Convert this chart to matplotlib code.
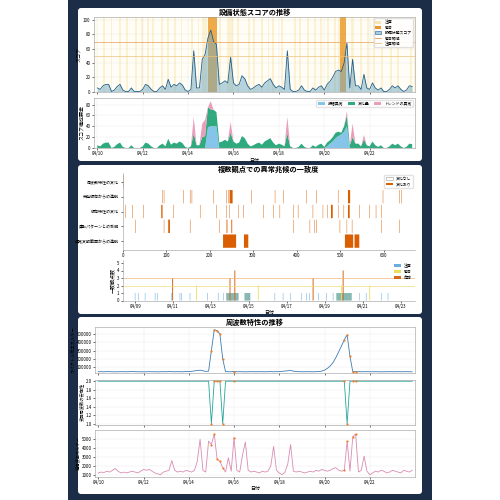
import matplotlib
matplotlib.use('Agg')
import matplotlib.pyplot as plt
import matplotlib.dates as mdates
from matplotlib.patches import FancyBboxPatch, Patch, Rectangle
from matplotlib.lines import Line2D
import numpy as np
import pandas as pd

plt.rcParams['font.family'] = ['Noto Sans CJK JP', 'DejaVu Sans']
plt.rcParams['axes.unicode_minus'] = False

# ---------------- data ----------------
# 3-hour samples from 04/10 00:00
times = pd.date_range('2024-04-10 00:00', periods=112, freq='3h')

score = [5, 3, 8, 10, 10, 0, 2, 7,
         10, 2, 0, 0, 5, 0, 0, 0,
         3, 10, 8, 3, 0, 0, 5, 8,
         3, 17, 6, 10, 8, 12, 9, 2,
         0, 3, 57, 5, 5, 45, 52, 75,
         86, 70, 66, 10, 12, 15, 12, 48,
         12, 8, 10, 22, 18, 8, 3, 5,
         8, 10, 6, 12, 15, 18, 10, 5,
         8, 6, 3, 57, 3, 0, 0, 2,
         8, 2, 0, 0, 5, 2, 6, 8,
         2, 10, 14, 20, 28, 30, 28, 40,
         68, 5, 45, 8, 8, 3, 24, 5,
         3, 12, 5, 2, 5, 0, 0, 3,
         8, 5, 8, 3, 0, 2, 8, 7]

amp_part = [0] * 39 + [38, 40, 40, 40] + [0] * 38 + [3, 8, 12, 18, 22, 25, 30, 40] + [0] * 23
trend_part = [0] * 34 + [30, 0, 0, 25, 30, 0, 15] + [0] * 6 + [20] + [0] * 19 + [30] + [0] * 20 + [8, 0, 25, 0, 0, 0, 8] + [0] * 17

# caution / warning periods (hours from 04/10 00:00, duration hours)
caution_spans = [(6, 2), (14, 2), (23, 2), (30, 2), (40, 2), (46, 2), (53, 2),
                 (58, 2), (67, 2), (74, 2), (81, 2), (88, 2), (99, 2), (106, 2),
                 (111, 5), (129, 2), (137, 7), (148, 2), (159, 2), (165, 2), (173, 2),
                 (180, 2), (185, 2), (194, 2), (208, 2), (213, 2), (222, 2),
                 (229, 2), (236, 2), (243, 2), (250, 2), (255, 2), (268, 4),
                 (278, 2), (285, 2), (292, 2), (300, 2), (310, 2), (317, 2),
                 (331, 2), (335, 2)]
warning_spans = [(117.5, 9.5), (256.5, 6)]
warn_threshold = 70
caution_threshold = 50

# anomaly-sign agreement (index, run length)
categories = ['通常変動範囲からの逸脱', '運転パターンとの乖離', '傾向特性の変化',
              '突発傾向からの逸脱', '周波数特性の変化']
events_range = [(231, 30), (279, 10), (511, 19), (533, 11)]
events_pattern = [(29, 1), (95, 1), (105, 4), (155, 1), (223, 1), (239, 2), (250, 2), (392, 1),
                  (430, 1), (441, 1), (445, 1), (499, 1), (515, 1), (527, 1), (594, 1), (636, 1)]
events_trend = [(6, 1), (23, 1), (48, 1), (89, 3), (117, 1), (178, 1), (216, 1), (239, 1),
                (246, 1), (266, 1), (277, 1), (323, 1), (346, 1), (361, 1), (392, 1), (403, 1),
                (437, 1), (460, 1), (471, 1), (479, 4), (495, 1), (508, 1), (518, 4), (544, 1),
                (567, 1), (582, 1), (594, 1)]
events_burst = [(92, 1), (95, 1), (140, 1), (155, 1), (159, 1), (208, 1), (239, 1), (243, 1),
                (246, 7), (296, 1), (350, 1), (369, 1), (422, 1), (445, 1), (495, 1), (518, 5),
                (598, 1), (636, 1), (640, 1)]
events_freq = [(0, 2)]
n_index = 672

# agreement counts over time
agree_start = pd.Timestamp('2024-04-08 08:00')
agree_end = pd.Timestamp('2024-04-23 18:00')
level1_idx = [29, 37, 52, 75, 80, 113, 132, 136, 155, 195, 220, 232, 350, 369, 386, 411,
              423, 430, 450, 469, 484, 545, 560, 595, 610]
level1_runs = [(239, 266), (281, 293), (492, 526)]
level2_idx = [170, 312, 503, 568]
level3_idx = [115, 247, 258, 438, 507]
level3_cnt = [3, 3, 4, 3, 4]

# frequency characteristics
power = [45000, 46000, 45000, 47000, 46000, 45000, 44000, 45000,
         46000, 45000, 45000, 46000, 47000, 46000, 45000, 45000,
         44000, 45000, 46000, 45000, 45000, 44000, 45000, 46000,
         45000, 47000, 46000, 45000, 46000, 45000, 45000, 47000,
         48000, 50000, 55000, 60000, 64000, 56000, 50000, 52000,
         300000, 550000, 540000, 500000, 200000, 46000, 45000, 45000,
         48000, 45000, 46000, 45000, 44000, 45000, 46000, 45000,
         45000, 46000, 45000, 45000, 46000, 47000, 45000, 46000,
         47000, 50000, 54000, 57000, 60000, 52000, 47000, 46000,
         45000, 45000, 46000, 45000, 45000, 46000, 48000, 52000,
         65000, 85000, 115000, 155000, 215000, 285000, 355000, 430000,
         490000, 230000, 45000, 47000, 46000, 45000, 45000, 46000,
         45000, 45000, 46000, 45000, 44000, 45000, 45000, 46000,
         45000, 45000, 46000, 45000, 45000, 46000, 45000, 45000]
ratio = [2.0] * 40 + [1.0, 2.0, 2.0, 2.0, 1.0] + [2.0] * 43 + [1.0] + [2.0] * 23
energy = [1200, 1300, 1250, 1400, 1300, 1500, 1700, 1400,
          1200, 1300, 1200, 1300, 1400, 1300, 1200, 1400,
          1600, 1500, 1600, 1400, 1200, 1100, 1000, 1300,
          1400, 1500, 2600, 1500, 1300, 1400, 1300, 1500,
          1400, 1300, 1500, 2500, 5000, 1500, 1300, 4800,
          4400, 5600, 2800, 2500, 1800, 1300, 2900, 1400,
          5200, 1500, 1300, 3200, 4700, 1500, 1300, 1400,
          1300, 1200, 1400, 1300, 1400, 2000, 4200, 1500,
          1200, 1000, 1300, 2200, 4400, 1400, 1300, 1400,
          1300, 1200, 1300, 1400, 1300, 1500, 1400, 1600,
          1500, 1400, 1500, 1700, 1800, 1500, 1400, 1500,
          4800, 1400, 5300, 5600, 1300, 1500, 3100, 1400,
          1000, 1200, 1400, 1300, 1500, 1400, 1200, 1300,
          1500, 1400, 1300, 1200, 1500, 1400, 1300, 1500]
power_anom = [40, 41, 42, 43, 44, 48, 87, 88, 89, 90, 91]
ratio_anom = [40, 41, 42, 43, 44, 48, 87, 88, 90, 91]
energy_anom = [40, 41, 42, 43, 44, 48, 87, 88, 90, 91]

# ---------------- figure ----------------
fig = plt.figure(figsize=(5, 5), dpi=100)
fig.patch.set_facecolor('white')
fig.patches.append(Rectangle((0.136, 0), 0.728, 1, transform=fig.transFigure,
                             facecolor='#1b2d47', edgecolor='none', zorder=-2))
for y0, y1 in [(8, 161), (165, 314), (317, 494)]:
    fig.patches.append(FancyBboxPatch((0.156, 1 - y1 / 500), 0.688, (y1 - y0) / 500,
                                      boxstyle='round,pad=0,rounding_size=0.006',
                                      transform=fig.transFigure, facecolor='white',
                                      edgecolor='none', zorder=-1))

TICK = 3.2
LAB = 3.6


def style(ax):
    for s in ax.spines.values():
        s.set_linewidth(0.4)
        s.set_color('#999999')
    ax.tick_params(labelsize=TICK, length=1.5, width=0.4, pad=1)
    ax.grid(True, alpha=0.25, linewidth=0.3)


t0 = times[0]
xmin = pd.Timestamp('2024-04-09 20:30')
xmax = pd.Timestamp('2024-04-24 00:00')
day_loc = mdates.DayLocator(bymonthday=[10, 12, 14, 16, 18, 20, 22])
fmt = mdates.DateFormatter('%m/%d')

score_a = np.array(score, dtype=float)
amp_a = np.array(amp_part, dtype=float)
trend_a = np.array(trend_part, dtype=float)
change_a = np.clip(score_a - amp_a - trend_a, 0, None)

# ---- panel 1 ----
ax1 = fig.add_axes([0.188, 0.817, 0.642, 0.150])
ax1.set_facecolor('#fffdf5')
for h, w in caution_spans:
    ax1.axvspan(t0 + pd.Timedelta(hours=h), t0 + pd.Timedelta(hours=h + w),
                color='#fbe6ad', alpha=0.5, linewidth=0)
for h, w in warning_spans:
    ax1.axvspan(t0 + pd.Timedelta(hours=h), t0 + pd.Timedelta(hours=h + w),
                color='#eb9a2a', alpha=0.85, linewidth=0)
ax1.fill_between(times, score_a, color='#6fa9c4', alpha=0.5, linewidth=0)
ax1.plot(times, score_a, color='#1f5f8b', linewidth=0.6)
ax1.axhline(warn_threshold, color='#e3a05c', linewidth=0.5)
ax1.axhline(caution_threshold, color='#f0c27e', linewidth=0.5)
ax1.set_ylim(0, 105)
ax1.set_yticks([0, 20, 40, 60, 80, 100])
ax1.set_xlim(xmin, xmax)
ax1.xaxis.set_major_locator(day_loc)
ax1.tick_params(labelbottom=False)
ax1.set_ylabel('スコア', fontsize=LAB, labelpad=1)
ax1.set_title('設備状態スコアの推移', fontsize=5.2, fontweight='bold', pad=1)
style(ax1)
h1 = [Patch(facecolor='#fbe6ad', label='注意'),
      Patch(facecolor='#eb9a2a', label='警告'),
      Patch(facecolor='#a9cde0', edgecolor='#1f5f8b', linewidth=0.4, label='設備状態スコア'),
      Line2D([], [], color='#e3a05c', linewidth=0.6, label='警告閾値'),
      Line2D([], [], color='#f0c27e', linewidth=0.6, label='注意閾値')]
ax1.legend(handles=h1, loc='upper right', fontsize=2.8, frameon=True, framealpha=0.9,
           edgecolor='#dddddd', handlelength=1.5, borderpad=0.4, labelspacing=0.3)

ax2 = fig.add_axes([0.188, 0.704, 0.642, 0.100])
ax2.stackplot(times, amp_a, change_a, trend_a,
              colors=['#86c5ea', '#2eaa7e', '#ec9dbd'], linewidth=0)
ax2.set_ylim(0, 92)
ax2.set_yticks([0, 20, 40, 60, 80])
ax2.set_xlim(xmin, xmax)
ax2.xaxis.set_major_locator(day_loc)
ax2.xaxis.set_major_formatter(fmt)
ax2.set_ylabel('スコア構成要素', fontsize=LAB, labelpad=1)
ax2.set_xlabel('日付', fontsize=LAB, labelpad=1)
style(ax2)
h2 = [Patch(facecolor='#86c5ea', label='振幅異常'),
      Patch(facecolor='#2eaa7e', label='変化量'),
      Patch(facecolor='#ec9dbd', label='トレンドの異常')]
ax2.legend(handles=h2, loc='upper right', ncol=3, fontsize=2.8, frameon=True,
           edgecolor='#dddddd', handlelength=1.8, borderpad=0.4, columnspacing=1.2)

# ---- panel 2 ----
ax3 = fig.add_axes([0.245, 0.500, 0.585, 0.154])
rows = [events_range, events_pattern, events_trend, events_burst, events_freq]
for i, ev in enumerate(rows):
    bars = ax3.broken_barh(ev, (i - 0.45, 0.9), facecolors='#d95f02', linewidth=0)
    bars.set_snap(False)
ax3.set_xlim(0, n_index)
ax3.set_ylim(-0.6, 4.6)
ax3.set_yticks(range(len(categories)))
ax3.set_yticklabels(categories, fontsize=2.9)
ax3.set_xticks([0, 100, 200, 300, 400, 500, 600])
ax3.set_title('複数観点での異常兆候の一致度', fontsize=5.2, fontweight='bold', pad=1)
style(ax3)
ax3.tick_params(axis='y', labelsize=2.9)
ax3.grid(False)
for s in ['top', 'right']:
    ax3.spines[s].set_visible(False)
h3 = [Patch(facecolor='white', edgecolor='#999999', linewidth=0.4, label='変化なし'),
      Patch(facecolor='#d95f02', label='変化あり')]
ax3.legend(handles=h3, loc='upper right', fontsize=2.8, frameon=True, edgecolor='#dddddd',
           handlelength=1.8, borderpad=0.4)

ax4 = fig.add_axes([0.245, 0.399, 0.585, 0.081])
step = (agree_end - agree_start) / n_index
bw = step / pd.Timedelta(days=1)


def at(i):
    return agree_start + step * i


run_idx = [i for a, b in level1_runs for i in range(a, b + 1)]
b1 = ax4.bar([at(i) for i in level1_idx], [1] * len(level1_idx), width=bw * 1.5,
             color='#6aaee0', alpha=0.8, linewidth=0)
b2 = ax4.bar([at(i) for i in run_idx], [1] * len(run_idx), width=bw,
             color='#3f8f86', alpha=0.8, linewidth=0)
b3 = ax4.bar([at(i) for i in level2_idx], [2] * len(level2_idx), width=bw * 2,
             color='#e6e05a', alpha=0.9, linewidth=0)
b4 = ax4.bar([at(i) for i in level3_idx], level3_cnt, width=bw * 2.5,
             color='#d2691e', alpha=0.9, linewidth=0)
for bc in (b1, b2, b3, b4):
    for p in bc:
        p.set_snap(False)
ax4.axhline(2, color='#f3dc7a', linewidth=0.5)
ax4.axhline(3, color='#f2b77a', linewidth=0.5)
ax4.set_xlim(agree_start, agree_end)
ax4.set_ylim(0, 5.4)
ax4.set_yticks([0, 1, 2, 3, 4, 5])
ax4.xaxis.set_major_locator(mdates.DayLocator(bymonthday=[9, 11, 13, 15, 17, 19, 21, 23]))
ax4.xaxis.set_major_formatter(fmt)
ax4.set_ylabel('一致観点数', fontsize=LAB, labelpad=1)
ax4.set_xlabel('日付', fontsize=LAB, labelpad=1)
style(ax4)
ax4.grid(False)
for s in ['top', 'right']:
    ax4.spines[s].set_visible(False)
h4 = [Patch(facecolor='#6aaee0', label='注意'),
      Patch(facecolor='#e6e05a', label='警告'),
      Patch(facecolor='#d2691e', label='危険')]
ax4.legend(handles=h4, loc='upper right', fontsize=2.8, frameon=False, handlelength=1.8)

# ---- panel 3 ----
power_a = np.array(power, dtype=float)
ratio_a = np.array(ratio, dtype=float)
energy_a = np.array(energy, dtype=float)

ax5 = fig.add_axes([0.190, 0.254, 0.640, 0.093])
ax5.plot(times, power_a, color='#3d7cb5', linewidth=0.6)
ax5.scatter(times[power_anom], power_a[power_anom], s=2.5, color='#f07e26', zorder=3, linewidths=0)
ax5.set_ylim(30000, 590000)
ax5.set_yticks([100000, 200000, 300000, 400000, 500000])
ax5.set_xlim(xmin, xmax)
ax5.xaxis.set_major_locator(day_loc)
ax5.tick_params(labelbottom=False)
ax5.set_ylabel('スペクトル総エネルギー', fontsize=LAB * 0.85, labelpad=1)
ax5.set_title('周波数特性の推移', fontsize=5.2, fontweight='bold', pad=1)
style(ax5)

ax6 = fig.add_axes([0.190, 0.150, 0.640, 0.091])
ax6.plot(times, ratio_a, color='#26a69a', linewidth=0.6)
ax6.scatter(times[ratio_anom], ratio_a[ratio_anom], s=2.5, color='#f07e26', zorder=3, linewidths=0)
ax6.set_ylim(0.97, 2.04)
ax6.set_yticks([1.0, 1.2, 1.4, 1.6, 1.8, 2.0])
ax6.set_xlim(xmin, xmax)
ax6.xaxis.set_major_locator(day_loc)
ax6.tick_params(labelbottom=False)
ax6.set_ylabel('支配周波数の安定性', fontsize=LAB * 0.85, labelpad=1)
style(ax6)

ax7 = fig.add_axes([0.190, 0.047, 0.640, 0.093])
ax7.plot(times, energy_a, color='#d98cb3', linewidth=0.6)
ax7.scatter(times[energy_anom], energy_a[energy_anom], s=2.5, color='#f07e26', zorder=3, linewidths=0)
ax7.set_ylim(800, 6050)
ax7.set_yticks([1000, 2000, 3000, 4000, 5000])
ax7.set_xlim(xmin, xmax)
ax7.xaxis.set_major_locator(day_loc)
ax7.xaxis.set_major_formatter(fmt)
ax7.set_ylabel('高周波エネルギー', fontsize=LAB * 0.85, labelpad=1)
ax7.set_xlabel('日付', fontsize=LAB, labelpad=1)
style(ax7)

fig.savefig('out.png', dpi=100)
